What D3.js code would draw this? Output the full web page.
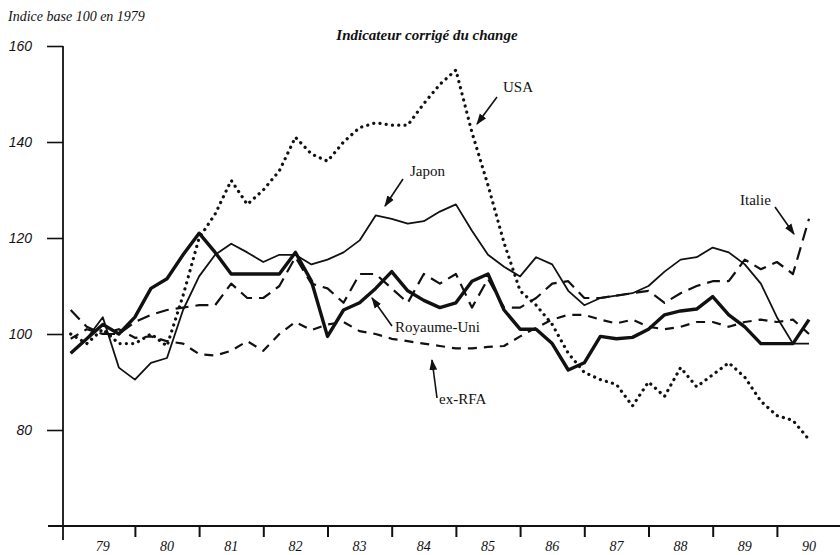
<!DOCTYPE html>
<html>
<head>
<meta charset="utf-8">
<script src="https://cdn.jsdelivr.net/npm/d3@7"></script>
<style>
  body { margin: 0; background: #fff; }
  svg { font-family: "Liberation Serif", "DejaVu Serif", serif; }
  .tick text { font-style: italic; font-size: 14px; }
</style>
</head>
<body>
<svg id="chart" width="840" height="555"></svg>
<script>
// quarterly index values, 1979 T1 .. 1990 T3 (base 100 en 1979)
var quarters = d3.range(47).map(function(i) { return 1979 + i / 4; });

var usa = [100, 98, 101, 98, 98, 100, 97.5, 108, 120, 125, 132, 127, 130, 134, 141, 137.5,
  136, 140, 143, 144, 143.5, 143.5, 148, 152, 155, 142, 131, 119, 109, 106, 102, 96,
  92, 90.5, 89.5, 85, 90, 87, 93, 89, 91.5, 94, 91, 86, 83, 82, 78];

var japon = [96, 99, 103.5, 93, 90.5, 94, 95, 105, 112, 116.5, 118.8, 117, 115, 116.5, 116.5, 114.5,
  115.5, 117, 119.5, 124.7, 124, 123, 123.5, 125.5, 127, 121.5, 116.5, 114, 112, 116, 114.5, 109,
  106, 107.5, 108, 108.5, 110, 113, 115.5, 116, 118, 117, 114.5, 110.5, 103.5, 98, 98];

var royaumeUni = [96, 99, 102, 100, 103.5, 109.5, 111.5, 116.5, 121, 117, 112.5, 112.5, 112.5, 112.5, 117, 111,
  99.5, 105, 106.5, 109.5, 113, 109, 107, 105.5, 106.5, 111, 112.5, 105, 101, 101, 98, 92.5,
  94, 99.5, 99, 99.3, 101, 104, 104.8, 105.2, 107.8, 104, 101.5, 98, 98, 98, 103];

var italie = [105, 101.5, 100, 100, 102.5, 104, 105, 105.5, 106, 106, 110.5, 107.5, 107.5, 110, 116, 110.5,
  109.5, 106.5, 112.5, 112.5, 109.5, 106.5, 112.5, 110.5, 112.5, 105.5, 111.5, 105.5, 105.5, 107.5, 110.5, 111,
  107.5, 107.5, 108, 108.5, 109, 106.5, 108.5, 110, 111, 111, 115.5, 113.5, 115, 112.5, 124];

var exRFA = [99, 101, 100, 101, 99.2, 99.5, 98.5, 98, 95.8, 95.5, 96.5, 98.5, 96.5, 100, 102.5, 100.8,
  102, 102.5, 100.6, 100, 99, 98.5, 98, 97.5, 97, 97, 97.3, 97.5, 99.5, 101.3, 103, 104,
  104, 103, 102.2, 103, 101.5, 101, 101.5, 102.5, 102.5, 101.5, 102.5, 103, 102.5, 103, 100];

var yTicks = [80, 100, 120, 140, 160];
var yearTicks = [1980, 1981, 1982, 1983, 1984, 1985, 1986, 1987, 1988, 1989, 1990];
var yearLabels = [1979, 1980, 1981, 1982, 1983, 1984, 1985, 1986, 1987, 1988, 1989, 1990];

var svg = d3.select("#chart");
var axisX = 63, axisY = 526;

var x = d3.scaleLinear().domain([1979, 1991]).range([70.7, 841.1]);
var y = d3.scaleLinear().domain([60, 160]).range([526, 46]);

svg.append("rect").attr("width", 840).attr("height", 555).attr("fill", "#fff");

// y axis
var gy = svg.append("g").attr("transform", "translate(" + axisX + ",0)")
  .call(d3.axisLeft(y).tickValues(yTicks).tickSize(16).tickPadding(15).tickSizeOuter(0));
gy.select(".domain").remove();
gy.selectAll(".tick line").attr("stroke", "#111").attr("stroke-width", 1.6);
gy.selectAll(".tick text").attr("fill", "#111");
svg.append("line").attr("x1", axisX).attr("x2", axisX).attr("y1", y(160)).attr("y2", 540)
  .attr("stroke", "#111").attr("stroke-width", 1.8);

// x axis
var gx = svg.append("g").attr("transform", "translate(0," + axisY + ")")
  .call(d3.axisBottom(x).tickValues(yearTicks).tickSize(11).tickFormat("").tickSizeOuter(0));
gx.select(".domain").remove();
gx.selectAll(".tick line").attr("stroke", "#111").attr("stroke-width", 2);
svg.append("line").attr("x1", 48).attr("x2", 840).attr("y1", axisY).attr("y2", axisY)
  .attr("stroke", "#111").attr("stroke-width", 1.8);
svg.selectAll(".yearlab").data(yearLabels).enter().append("text")
  .attr("class", "yearlab")
  .attr("x", function(d) { return x(d + 0.5); })
  .attr("y", 551)
  .attr("text-anchor", "middle")
  .attr("font-style", "italic")
  .attr("font-size", 14)
  .attr("fill", "#111")
  .text(function(d) { return String(d).slice(2); });

// titles
svg.append("text").attr("x", 8).attr("y", 21).attr("font-style", "italic")
  .attr("font-size", 14).attr("fill", "#111").text("Indice base 100 en 1979");
svg.append("text").attr("x", 427).attr("y", 40).attr("text-anchor", "middle")
  .attr("font-style", "italic").attr("font-weight", "bold")
  .attr("font-size", 15).attr("fill", "#111").text("Indicateur corrigé du change");

// series
var series = [
  { name: "ex-RFA", values: exRFA, width: 2.2, dash: "9 7", cap: "butt" },
  { name: "Italie", values: italie, width: 2.2, dash: "13 7", cap: "butt" },
  { name: "USA", values: usa, width: 3.2, dash: "0.1 6.2", cap: "round" },
  { name: "Japon", values: japon, width: 1.8, dash: null, cap: "butt" },
  { name: "Royaume-Uni", values: royaumeUni, width: 3.4, dash: null, cap: "butt" }
];

var line = d3.line()
  .x(function(d, i) { return x(quarters[i]); })
  .y(function(d) { return y(d); });

svg.selectAll(".serie").data(series).enter().append("path")
  .attr("class", "serie")
  .attr("d", function(s) { return line(s.values); })
  .attr("fill", "none")
  .attr("stroke", "#111")
  .attr("stroke-width", function(s) { return s.width; })
  .attr("stroke-dasharray", function(s) { return s.dash; })
  .attr("stroke-linecap", function(s) { return s.cap; })
  .attr("stroke-linejoin", "round");

// labels with arrows
svg.append("defs").append("marker")
  .attr("id", "head").attr("viewBox", "0 0 10 10").attr("refX", 9).attr("refY", 5)
  .attr("markerWidth", 7).attr("markerHeight", 7).attr("orient", "auto")
  .append("path").attr("d", "M0,1.5L10,5L0,8.5Z").attr("fill", "#111");

var notes = [
  { text: "USA", tx: 503, ty: 92, x1: 497, y1: 97, x2: 477, y2: 124 },
  { text: "Japon", tx: 410, ty: 176, x1: 403, y1: 179, x2: 385, y2: 206 },
  { text: "Italie", tx: 740, ty: 205, x1: 775, y1: 207, x2: 794, y2: 234 },
  { text: "Royaume-Uni", tx: 395, ty: 332, x1: 392, y1: 326, x2: 372, y2: 298 },
  { text: "ex-RFA", tx: 439, ty: 404, x1: 437, y1: 398, x2: 432, y2: 360 }
];

svg.selectAll(".note-line").data(notes).enter().append("line")
  .attr("class", "note-line")
  .attr("x1", function(d) { return d.x1; }).attr("y1", function(d) { return d.y1; })
  .attr("x2", function(d) { return d.x2; }).attr("y2", function(d) { return d.y2; })
  .attr("stroke", "#111").attr("stroke-width", 1.6)
  .attr("marker-end", "url(#head)");

svg.selectAll(".note").data(notes).enter().append("text")
  .attr("class", "note")
  .attr("x", function(d) { return d.tx; }).attr("y", function(d) { return d.ty; })
  .attr("font-size", 15).attr("fill", "#111")
  .text(function(d) { return d.text; });
</script>
</body>
</html>
